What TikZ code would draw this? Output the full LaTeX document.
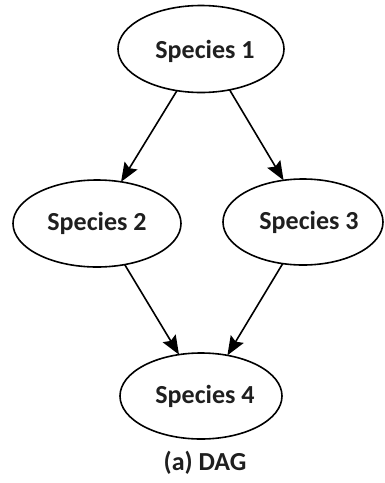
\documentclass[tikz,border=0pt]{standalone}
\usepackage{fontspec}
\setmainfont{Carlito}
\usetikzlibrary{shapes.geometric,arrows.meta}
\begin{document}
\begin{tikzpicture}[x=1pt,y=-1pt,
  species/.style={ellipse,draw=black,line width=1.6pt,inner sep=0pt,outer sep=0pt,
    font=\fontsize{26}{30}\selectfont\bfseries,text=black!88},
  link/.style={draw=black,line width=1.6pt,-{Stealth[length=19pt,width=15pt,inset=3pt]}},
  caption/.style={font=\fontsize{26}{30}\selectfont\bfseries,text=black!88}]
\fill[white] (0,0) rectangle (384,483);
\useasboundingbox (0,0) rectangle (384,483);
\node[species,minimum width=166pt,minimum height=87pt] (s1) at (201,49) {\hspace{8pt}\rule{0pt}{24pt}Species 1};
\node[species,minimum width=168pt,minimum height=87pt] (s2) at (97,223.5) {Species 2};
\node[species,minimum width=160pt,minimum height=86pt] (s3) at (303,222) {\hspace{12pt}Species 3};
\node[species,minimum width=162pt,minimum height=86pt] (s4) at (201,396) {\hspace{8pt}Species 4};
\node[caption] (cap) at (205,463) {(a) DAG};
\draw[link] (s1.240.4) -- (s2.60.1);
\draw[link] (s1.305.2) -- (s3.115.5);
\draw[link] (s2.304) -- (s4.118);
\draw[link] (s3.244) -- (s4.57.9);
\end{tikzpicture}
\end{document}
